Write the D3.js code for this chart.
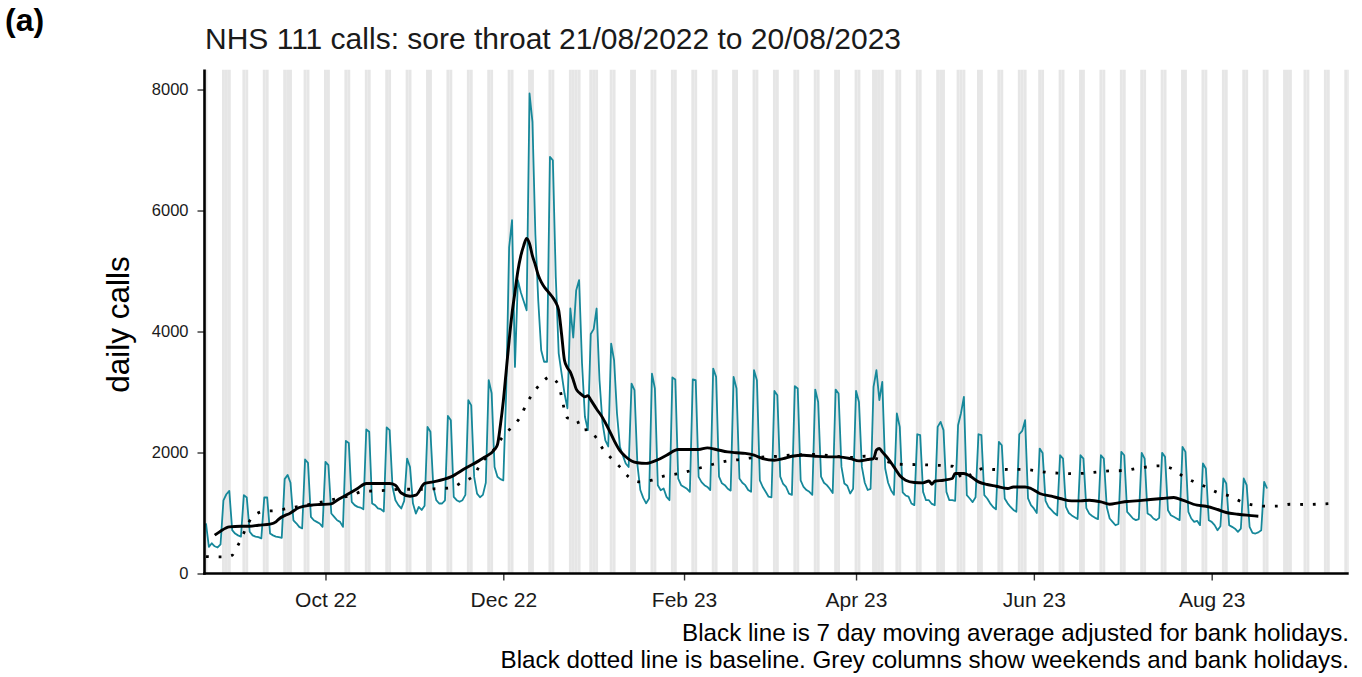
<!DOCTYPE html>
<html><head><meta charset="utf-8">
<script src="https://cdn.jsdelivr.net/npm/d3@7"></script>
<style>body{margin:0;background:#fff}svg{display:block;font-family:"Liberation Sans",Arial,Helvetica,sans-serif}</style>
</head><body><svg id="c" width="1362" height="677"></svg>
<script>
// ---------- data ----------
const startDate = "2022-08-21";
// daily NHS 111 calls, Sun..Sat per row, from 21/08/2022 to 20/08/2023
const calls = [
 830, 440, 500, 450, 430, 480,1210,
1310,1365, 716, 660, 630, 610,1295,
1256, 690, 630, 610, 600, 580,1256,
1256, 660, 630, 610, 600, 590,1560,
1630,1500, 880, 830, 770, 745,1884,
1830, 936, 880, 853, 826, 770,1845,
1790, 992, 936, 880, 853, 770,2192,
2159,1185,1130,1101,1090,1063,2380,
2343,1157,1130,1075,1063,1025,2413,
2370,1430,1210,1130,1075,1200,1900,
1760,1160, 990,1100,1050,1120,2423,
2343,1432,1212,1157,1157,1210,2605,
2534,1266,1212,1185,1212,1300,2865,
2780,1597,1320,1260,1300,1500,3195,
2980,1760,1600,1560,1540,3000,5390,
5840,3415,4850,4650,4500,4350,7934,
7464,5600,4500,3690,3500,3500,6886,
6831,4900,3640,3305,2975,2730,4380,
3900,4680,4850,3475,2590,2370,3960,
4040,4380,3195,2500,2200,2100,3800,
3525,2645,2093,1950,1818,1760,3140,
3030,1800,1380,1250,1160,1240,3305,
3058,1460,1377,1405,1266,1212,3240,
3207,1570,1460,1430,1400,1350,3207,
3195,1597,1510,1460,1430,1380,3388,
3250,1600,1490,1460,1400,1370,3250,
3058,1570,1500,1460,1380,1350,3360,
3195,1540,1430,1350,1270,1260,3018,
2947,1600,1480,1430,1320,1300,3096,
3058,1540,1430,1380,1350,1300,3041,
2836,1600,1500,1460,1400,1330,3041,
2975,1762,1487,1450,1322,1400,3020,
2836,1762,1500,1380,1400,3085,3360,
2865,3167,1735,1500,1377,1300,2645,
2423,1340,1290,1270,1157,1130,2302,
2286,1350,1212,1212,1150,1129,2423,
2506,2370,1350,1212,1212,1200,2450,
2650,2920,1294,1240,1180,1260,2302,
2286,1294,1240,1160,1100,1060,2175,
2120,1240,1160,1100,1050,1019,2302,
2357,2534,1240,1130,1075,1000,2065,
1990,1200,1100,1050,1000, 960,1955,
1900,1100,1000, 960, 930, 900,1955,
1900,1080, 990, 950, 920, 900,1955,
1900,1100, 909, 854, 798, 820,2010,
1955,1018, 964, 909, 882, 900,1995,
1900, 992, 964, 909, 882, 920,1995,
1928,1046, 964, 937, 909, 882,2093,
2010,1018, 909, 854, 870, 799,1818,
1735, 880, 854, 799, 716, 780,1570,
1487, 799, 771, 740, 688, 740,1570,
1460, 771, 672, 661, 680, 716,1515,
1405];

// 7 day moving average (adjusted), read at day offsets from startDate
const maOffsets = [3,5,8,12,15,18,22,24,25,29,32,36,39,43,45,48,52,55,59,63,65,67,70,72,75,78,84,89,95,99,
 100,101,102,103,104,105,106,107,108,109,110,111,112,113,114,115,116,117,118,119,120,121,122,123,124,125,126,127,128,129,130,131,132,134,136,138,140,142,144,146,148,
 151,155,158,162,166,169,172,175,179,182,185,188,191,195,198,201,205,209,213,217,221,224,227,229,230,231,232,234,236,238,240,243,246,248,249,250,253,256,257,260,262,265,268,271,275,277,281,283,286,290,293,297,300,303,307,310,313,316,319,324,328,332,335,340,343,347,350,354,357,361];
const maValues = [633,700,770,781,781,798,815,853,900,1002,1091,1129,1140,1150,1212,1294,1405,1488,1488,1488,1460,1330,1278,1294,1488,1515,1597,1740,1905,2050,
 2130,2450,2850,3350,3850,4300,4650,5000,5250,5420,5540,5450,5250,5100,4930,4820,4740,4680,4620,4560,4480,4350,3950,3520,3400,3330,3200,3050,2990,2950,2920,2940,2870,2720,2580,2400,2200,2030,1930,1860,1830,
 1820,1880,1955,2050,2050,2050,2076,2050,2010,1996,1985,1955,1900,1873,1900,1938,1955,1938,1928,1928,1900,1861,1884,1900,2040,2066,2010,1900,1762,1620,1542,1504,1498,1530,1476,1525,1542,1570,1652,1652,1614,1515,1471,1443,1405,1430,1430,1405,1322,1278,1240,1200,1200,1212,1185,1145,1168,1190,1200,1223,1240,1256,1212,1129,1112,1058,1008,980,964,947];

// baseline (dotted), read at day offsets from startDate
const baseOffsets = [0,3,7,9,10,12,14,16,20,24,28,32,37,41,45,50,54,58,62,67,71,75,80,84,88,92,94,98,102,105,108,110,112,115,118,121,122,123,124,127,129,131,134,136,139,142,145,149,153,157,161,166,170,174,179,183,187,196,200,209,216,223,226,230,238,244,250,256,260,263,267,271,276,280,285,289,293,298,302,306,310,315,319,323,327,332,335,339,343,347,351,355,359,364,368,372,377,381,386];
const baseValues = [280,275,275,300,385,560,780,936,1030,1040,1074,1110,1157,1195,1240,1294,1360,1365,1375,1393,1393,1393,1405,1415,1515,1625,1800,2000,2270,2425,2600,2812,2964,3145,3250,3112,2920,2700,2572,2550,2370,2380,2235,2070,1905,1762,1597,1515,1542,1608,1641,1696,1752,1806,1861,1884,1911,1938,1955,1967,1940,1917,1938,1900,1806,1800,1790,1773,1560,1663,1735,1719,1720,1722,1696,1669,1658,1650,1660,1680,1696,1700,1735,1762,1779,1719,1613,1514,1432,1339,1283,1190,1134,1112,1115,1145,1140,1145,1157];

const bankHolidays = ["2022-08-29","2022-09-19","2022-12-26","2022-12-27","2023-01-02","2023-04-07","2023-04-10","2023-05-01","2023-05-08","2023-05-29","2023-08-28"];
const tickDates = ["2022-10-01","2022-12-01","2023-02-01","2023-04-01","2023-06-01","2023-08-01"];
const tickLabels = ["Oct 22","Dec 22","Feb 23","Apr 23","Jun 23","Aug 23"];
const yTicks = [0,2000,4000,6000,8000];
const yTickLabels = ["0","2000","4000","6000","8000"];

// ---------- drawing ----------
(function(){
const parse = d3.utcParse("%Y-%m-%d");
const t0 = parse(startDate);
const svg = d3.select("#c");
svg.append("rect").attr("width",1362).attr("height",677).attr("fill","#fff");

const pL = 204.5, pR = 1348.7, pT = 69.5, pB = 573.5;
const x = d3.scaleUtc()
  .domain([d3.utcHour.offset(t0,-12), parse("2023-09-17")])
  .range([pL, pR]);
const y = d3.scaleLinear().domain([0, 8331]).range([pB, pT]);

svg.append("clipPath").attr("id","panel").append("rect")
  .attr("x",pL).attr("y",pT).attr("width",pR-pL).attr("height",pB-pT);
const g = svg.append("g").attr("clip-path","url(#panel)");

// grey columns: weekends and bank holidays
const bh = new Set(bankHolidays);
const fmt = d3.utcFormat("%Y-%m-%d");
const greyDays = d3.utcDay.range(d3.utcDay.offset(t0,-1), parse("2023-09-18"))
  .filter(d => d.getUTCDay()===0 || d.getUTCDay()===6 || bh.has(fmt(d)));
g.selectAll("rect.wk").data(greyDays).join("rect").attr("class","wk")
  .attr("x", d => x(d3.utcHour.offset(d,-12)))
  .attr("width", d => x(d3.utcHour.offset(d,12)) - x(d3.utcHour.offset(d,-12)))
  .attr("y", pT).attr("height", pB-pT)
  .attr("fill","#e6e6e6");

// teal daily calls
const callData = calls.map((v,i) => ({d: d3.utcDay.offset(t0,i), v}));
g.append("path").datum(callData)
  .attr("fill","none").attr("stroke","#16889a").attr("stroke-width",1.8)
  .attr("stroke-linejoin","round")
  .attr("d", d3.line().x(p=>x(p.d)).y(p=>y(p.v)));

// baseline dotted
const baseData = baseOffsets.map((o,i) => ({d: d3.utcDay.offset(t0,o), v: baseValues[i]}));
g.append("path").datum(baseData)
  .attr("fill","none").attr("stroke","#000").attr("stroke-width",2.8)
  .attr("stroke-dasharray","2.8 9.9")
  .attr("d", d3.line().x(p=>x(p.d)).y(p=>y(p.v)).curve(d3.curveMonotoneX));

// moving average
const maData = maOffsets.map((o,i) => ({d: d3.utcDay.offset(t0,o), v: maValues[i]}));
g.append("path").datum(maData)
  .attr("fill","none").attr("stroke","#000").attr("stroke-width",2.9)
  .attr("stroke-linejoin","round").attr("stroke-linecap","butt")
  .attr("d", d3.line().x(p=>x(p.d)).y(p=>y(p.v)).curve(d3.curveMonotoneX));

// axes
const xAxis = d3.axisBottom(x).tickValues(tickDates.map(parse))
  .tickFormat((d,i)=>tickLabels[i]).tickSize(7).tickSizeOuter(0).tickPadding(12);
const xa = svg.append("g").attr("transform",`translate(0,${pB})`).call(xAxis);
xa.select(".domain").remove();
xa.selectAll(".tick line").attr("stroke","#333").attr("stroke-width",1.4);
xa.selectAll(".tick text").attr("fill","#1a1a1a").attr("font-size",21).attr("font-family","Liberation Sans, Arial, sans-serif");

const yAxis = d3.axisLeft(y).tickValues(yTicks).tickFormat((d,i)=>yTickLabels[i])
  .tickSize(7).tickSizeOuter(0).tickPadding(9);
const ya = svg.append("g").attr("transform",`translate(${pL},0)`).call(yAxis);
ya.select(".domain").remove();
ya.selectAll(".tick line").attr("stroke","#333").attr("stroke-width",1.4);
ya.selectAll(".tick text").attr("fill","#1a1a1a").attr("font-size",16.5).attr("font-family","Liberation Sans, Arial, sans-serif");

svg.append("line").attr("x1",pL).attr("x2",pL).attr("y1",pT).attr("y2",pB+1.3)
  .attr("stroke","#000").attr("stroke-width",2.6);
svg.append("line").attr("x1",pL-1.3).attr("x2",pR).attr("y1",pB).attr("y2",pB)
  .attr("stroke","#000").attr("stroke-width",2.6);

// texts
svg.append("text").attr("x",5).attr("y",31).attr("font-size",32).attr("font-weight","bold")
  .attr("fill","#000").text("(a)");
svg.append("text").attr("x",205).attr("y",49).attr("font-size",30).attr("fill","#1a1a1a")
  .text("NHS 111 calls: sore throat 21/08/2022 to 20/08/2023");
svg.append("text").attr("transform",`translate(129,${(pT+pB)/2 + 3}) rotate(-90)`)
  .attr("text-anchor","middle").attr("font-size",31.5).attr("fill","#000").text("daily calls");
svg.append("text").attr("x",1349).attr("y",641).attr("text-anchor","end").attr("font-size",24.2)
  .attr("fill","#000").text("Black line is 7 day moving average adjusted for bank holidays.");
svg.append("text").attr("x",1349).attr("y",668).attr("text-anchor","end").attr("font-size",24.2)
  .attr("fill","#000").text("Black dotted line is baseline. Grey columns show weekends and bank holidays.");
})();
</script></body></html>
